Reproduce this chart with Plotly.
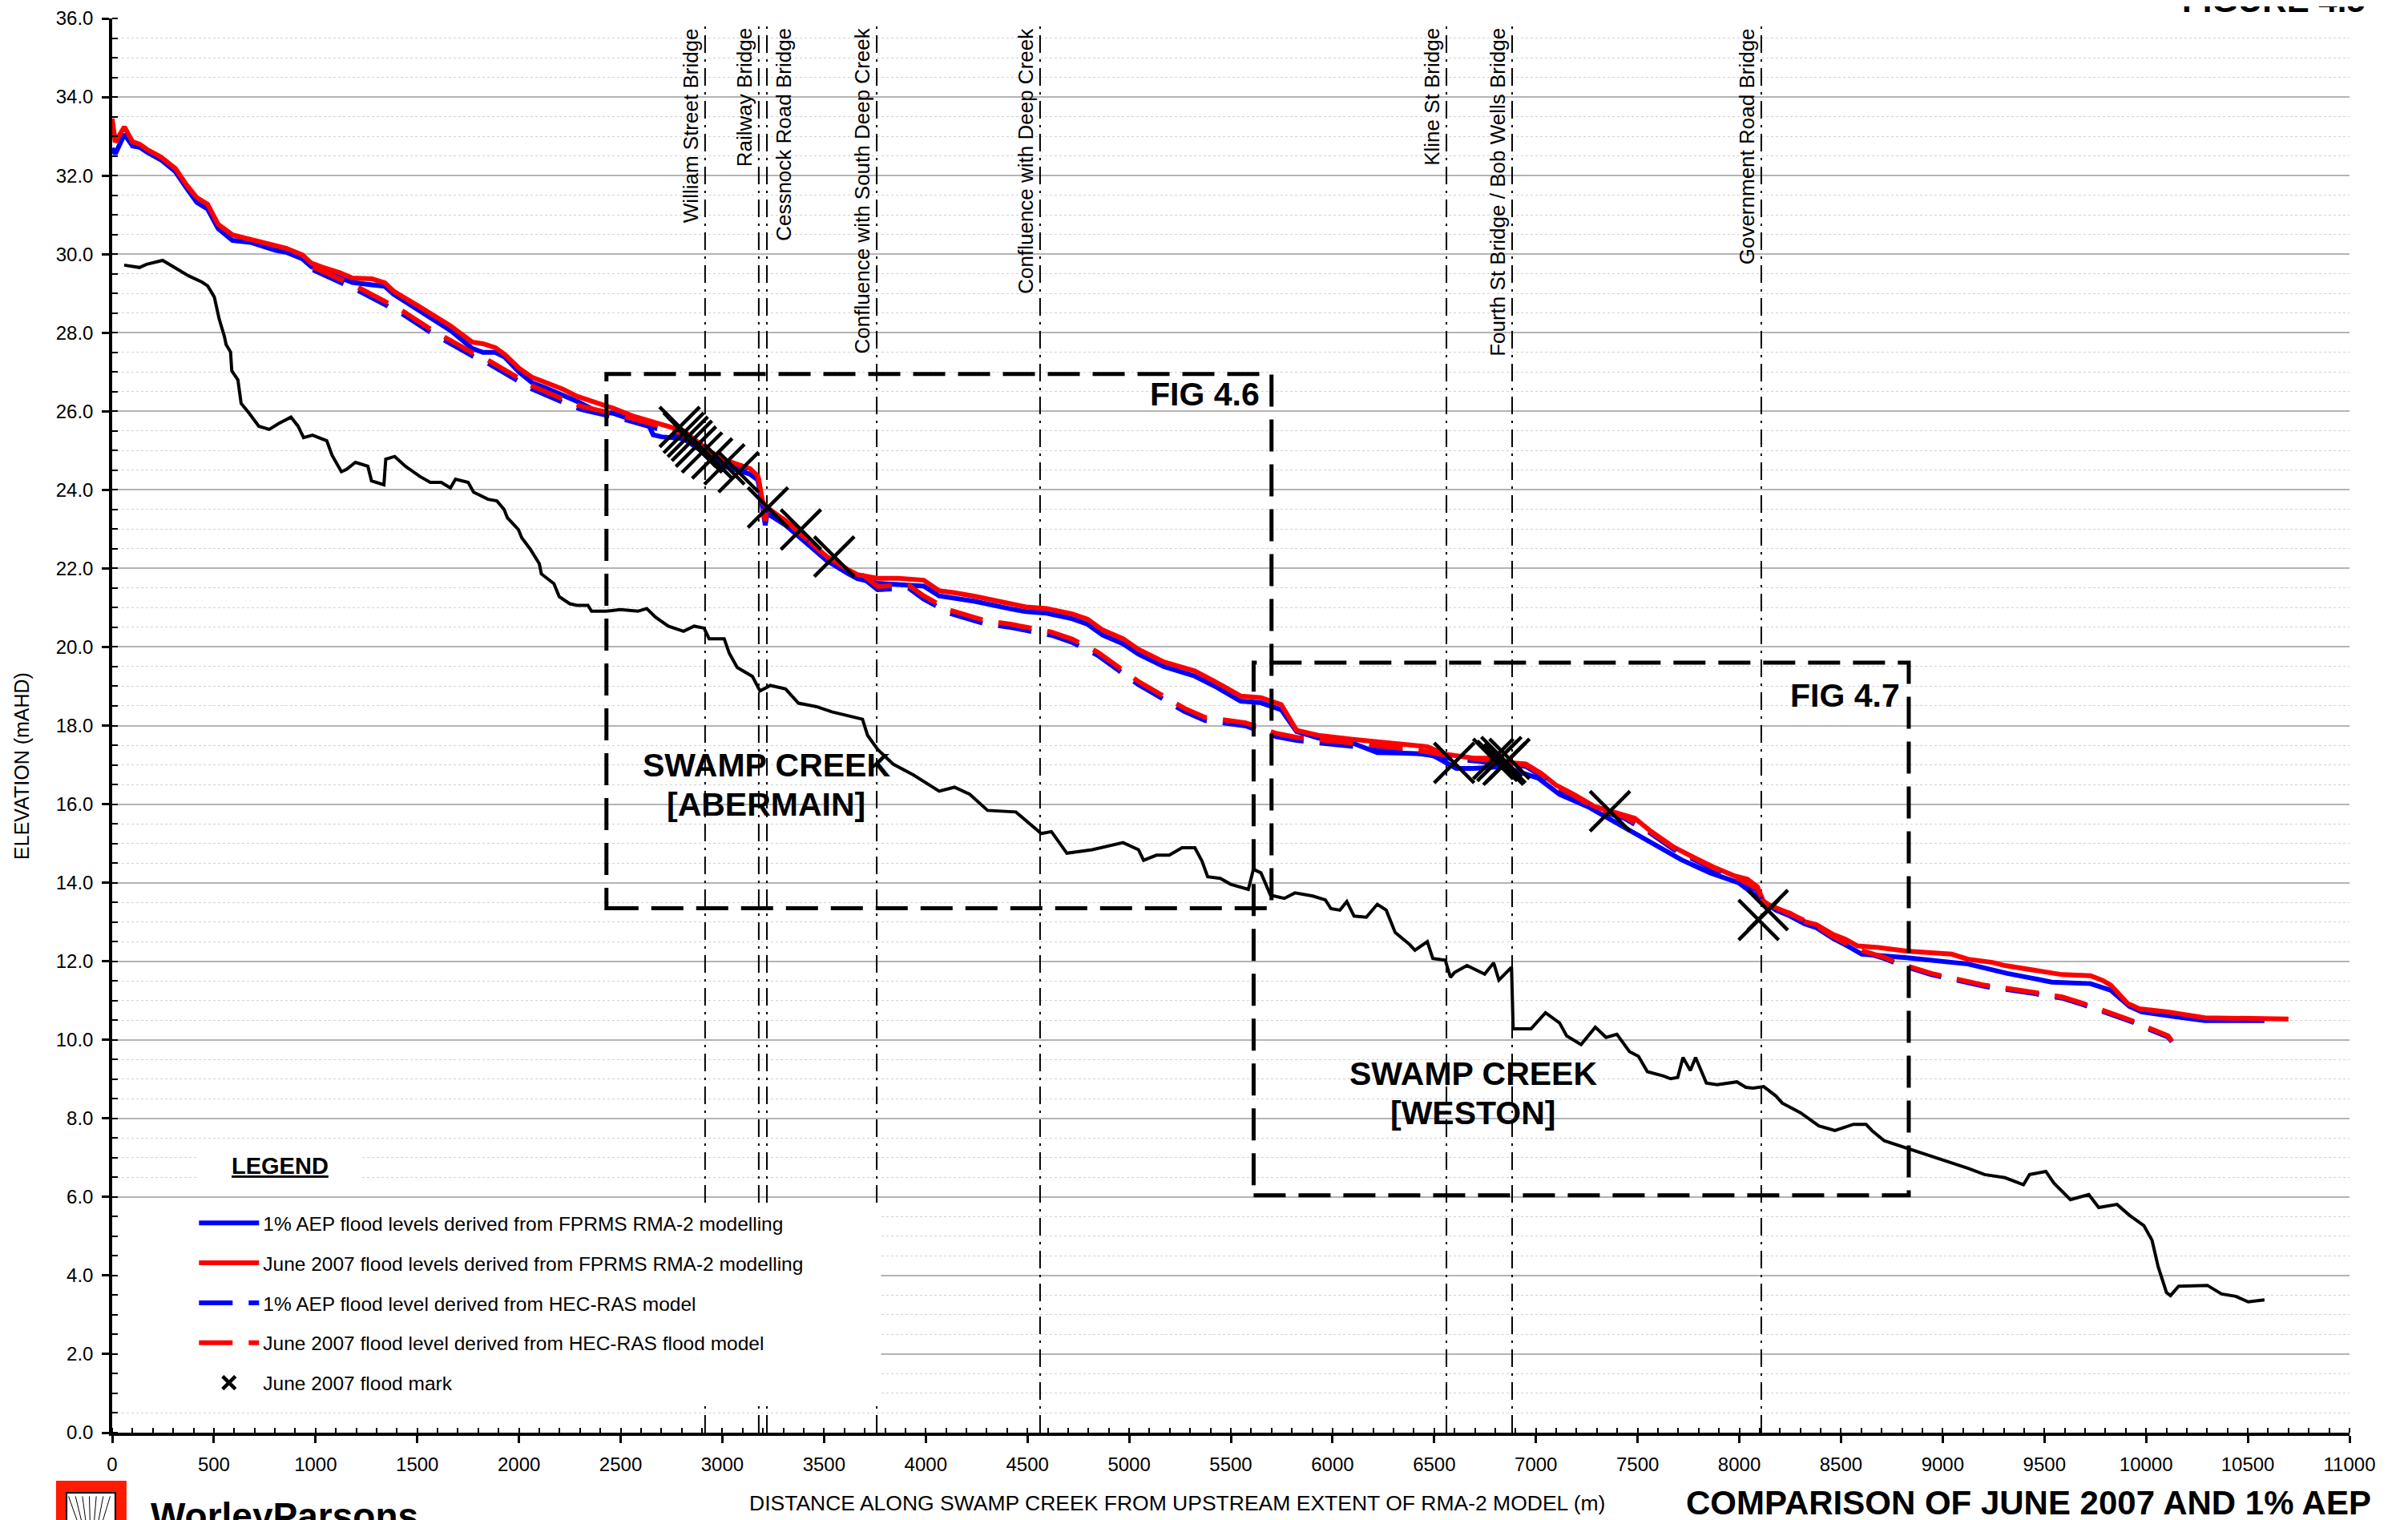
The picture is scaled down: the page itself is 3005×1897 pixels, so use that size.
import plotly.graph_objects as go

# ---------------- DATA ----------------
ground_x = [59, 134, 169, 248, 313, 375, 441, 470, 502, 526, 552, 560, 582, 588, 618, 634, 669, 721, 772, 819,
            879, 914, 941, 985, 1055, 1081, 1127, 1152, 1196, 1257, 1275, 1336, 1345, 1389, 1442, 1513, 1564, 1618,
            1663, 1688, 1750, 1777, 1848, 1891, 1927, 1943, 1997, 2014, 2057, 2100, 2110, 2172, 2198, 2250, 2285,
            2339, 2357, 2427, 2498, 2585, 2628, 2671, 2734, 2809, 2861, 2910, 2935, 3009, 3034, 3073, 3148, 3185,
            3236, 3311, 3374, 3463, 3538, 3576, 3689, 3714, 3764, 3839, 3940, 4066, 4141, 4216, 4304, 4443, 4568,
            4618, 4694, 4818, 4970, 5046, 5071, 5134, 5197, 5260, 5323, 5358, 5386, 5448, 5499, 5586, 5611, 5648,
            5695, 5763, 5815, 5903, 5965, 5992, 6036, 6070, 6106, 6166, 6220, 6264, 6308, 6378, 6405, 6466, 6493,
            6554, 6580, 6599, 6661, 6748, 6792, 6818, 6880, 6888, 6976, 7047, 7116, 7151, 7222, 7292, 7345, 7398,
            7460, 7504, 7548, 7627, 7662, 7697, 7723, 7759, 7785, 7838, 7891, 7988, 8032, 8068, 8120, 8180, 8211,
            8302, 8391, 8470, 8561, 8623, 8652, 8713, 8783, 8864, 9004, 9125, 9206, 9306, 9397, 9427, 9507, 9547,
            9628, 9718, 9767, 9857, 9919, 9989, 10029, 10059, 10100, 10120, 10160, 10301, 10371, 10441, 10502, 10582]
ground_y = [29.72, 29.66, 29.74, 29.84, 29.64, 29.45, 29.29, 29.19, 28.91, 28.35, 27.9, 27.7, 27.51, 27.03, 26.8,
            26.2, 25.98, 25.62, 25.54, 25.69, 25.85, 25.62, 25.33, 25.39, 25.25, 24.88, 24.46, 24.52, 24.7, 24.6,
            24.23, 24.13, 24.78, 24.85, 24.6, 24.34, 24.19, 24.19, 24.05, 24.27, 24.19, 23.94, 23.76, 23.72, 23.5,
            23.29, 22.99, 22.78, 22.48, 22.12, 21.86, 21.61, 21.28, 21.1, 21.06, 21.06, 20.91, 20.91, 20.95, 20.91,
            20.98, 20.76, 20.53, 20.4, 20.53, 20.48, 20.21, 20.21, 19.84, 19.48, 19.25, 18.88, 19.02, 18.93, 18.57,
            18.48, 18.35, 18.3, 18.16, 17.75, 17.39, 17.02, 16.74, 16.33, 16.43, 16.25, 15.84, 15.8, 15.25, 15.3,
            14.75, 14.84, 15.02, 14.84, 14.57, 14.7, 14.7, 14.89, 14.89, 14.55, 14.15, 14.11, 13.96, 13.83, 14.34,
            14.25, 13.68, 13.6, 13.74, 13.66, 13.56, 13.34, 13.3, 13.52, 13.15, 13.12, 13.45, 13.3, 12.73, 12.43,
            12.28, 12.5, 12.07, 12.03, 11.59, 11.71, 11.89, 11.67, 11.96, 11.52, 11.85, 10.28, 10.28, 10.69, 10.43,
            10.1, 9.88, 10.32, 10.06, 10.14, 9.7, 9.58, 9.19, 9.08, 9.01, 9.04, 9.55, 9.22, 9.55, 8.9, 8.86, 8.93,
            8.79, 8.77, 8.81, 8.57, 8.39, 8.14, 7.81, 7.69, 7.85, 7.85, 7.69, 7.43, 7.31, 7.19, 6.94, 6.73, 6.57,
            6.49, 6.31, 6.57, 6.65, 6.35, 5.93, 6.06, 5.73, 5.81, 5.53, 5.27, 4.9, 4.23, 3.57, 3.49, 3.73, 3.75,
            3.53, 3.47, 3.33, 3.38]

rma_jun_x = [0, 15, 60, 100, 135, 170, 240, 311, 363, 416, 469, 521, 592, 680, 802, 855, 935, 979, 1032, 1119,
             1181, 1277, 1340, 1383, 1505, 1665, 1770, 1823, 1884, 1930, 2000, 2066, 2128, 2216, 2286, 2374, 2462,
             2559, 2683, 2809, 2935, 3010, 3136, 3175, 3190, 3199, 3211, 3220, 3236, 3311, 3412, 3513, 3613, 3664,
             3763, 3865, 3990, 4066, 4141, 4242, 4417, 4492, 4594, 4719, 4795, 4870, 4970, 5046, 5171, 5322, 5422,
             5548, 5648, 5748, 5823, 5930, 6100, 6326, 6466, 6554, 6694, 6783, 6853, 6950, 7029, 7099, 7186, 7292,
             7434, 7486, 7557, 7679, 7785, 7872, 7978, 8040, 8089, 8120, 8180, 8250, 8321, 8380, 8462, 8522, 8582,
             8683, 8823, 8944, 9044, 9125, 9245, 9306, 9406, 9526, 9587, 9727, 9787, 9827, 9867, 9908, 9967, 10108,
             10289, 10700]
rma_jun_y = [33.45, 32.85, 33.24, 32.86, 32.8, 32.67, 32.47, 32.18, 31.78, 31.44, 31.27, 30.76, 30.49, 30.38, 30.21,
             30.15, 29.98, 29.77, 29.67, 29.53, 29.39, 29.37, 29.27, 29.06, 28.68, 28.17, 27.76, 27.72, 27.62, 27.45,
             27.1, 26.86, 26.74, 26.56, 26.38, 26.23, 26.08, 25.88, 25.68, 25.5, 24.99, 24.76, 24.54, 24.35, 23.9,
             23.67, 23.21, 23.55, 23.49, 23.21, 22.76, 22.3, 21.98, 21.84, 21.75, 21.75, 21.7, 21.43, 21.38, 21.29,
             21.1, 21.02, 20.98, 20.84, 20.71, 20.43, 20.21, 19.94, 19.62, 19.39, 19.12, 18.75, 18.71, 18.53, 17.88,
             17.75, 17.65, 17.53, 17.46, 17.27, 17.17, 17.17, 17.06, 17.02, 16.77, 16.48, 16.25, 15.93, 15.71, 15.64,
             15.34, 14.9, 14.62, 14.4, 14.17, 14.09, 13.89, 13.51, 13.34, 13.22, 13.01, 12.93, 12.68, 12.56, 12.39,
             12.35, 12.26, 12.22, 12.18, 12.05, 11.97, 11.89, 11.81, 11.73, 11.66, 11.63, 11.51, 11.39, 11.14, 10.93,
             10.79, 10.71, 10.56, 10.53]

rma_aep_x = [0, 15, 60, 100, 135, 170, 240, 311, 363, 416, 469, 521, 592, 680, 802, 855, 935, 979, 1032, 1119,
             1181, 1277, 1340, 1383, 1505, 1665, 1770, 1823, 1884, 1930, 2000, 2066, 2128, 2216, 2286, 2374, 2462,
             2559, 2640, 2660, 2700, 2809, 2935, 3010, 3136, 3175, 3190, 3199, 3211, 3220, 3236, 3311, 3412, 3513,
             3613, 3664, 3763, 3865, 3990, 4066, 4141, 4242, 4417, 4492, 4594, 4719, 4795, 4870, 4970, 5046, 5171,
             5322, 5422, 5548, 5648, 5748, 5823, 5930, 6100, 6220, 6326, 6484, 6608, 6694, 6818, 6888, 7011, 7116,
             7257, 7399, 7611, 7716, 7857, 7996, 8100, 8180, 8250, 8321, 8380, 8462, 8522, 8602, 8823, 9125, 9318,
             9536, 9727, 9827, 9918, 9978, 10127, 10289, 10582]
rma_aep_y = [32.7, 32.55, 33.05, 32.75, 32.72, 32.6, 32.4, 32.1, 31.7, 31.32, 31.15, 30.65, 30.35, 30.3, 30.1,
             30.05, 29.88, 29.68, 29.58, 29.42, 29.28, 29.22, 29.18, 28.98, 28.58, 28.05, 27.6, 27.5, 27.5, 27.38,
             27.0, 26.72, 26.6, 26.42, 26.25, 26.02, 25.95, 25.78, 25.62, 25.4, 25.35, 25.3, 24.85, 24.6, 24.4,
             24.25, 23.8, 23.55, 23.1, 23.4, 23.35, 23.1, 22.65, 22.2, 21.88, 21.74, 21.62, 21.6, 21.55, 21.3,
             21.25, 21.16, 20.97, 20.9, 20.86, 20.72, 20.58, 20.3, 20.08, 19.82, 19.5, 19.26, 19.0, 18.62, 18.58,
             18.4, 17.85, 17.68, 17.55, 17.31, 17.3, 17.27, 16.91, 16.91, 16.95, 16.87, 16.66, 16.25, 15.93, 15.52,
             14.9, 14.58, 14.25, 14.0, 13.6, 13.3, 13.15, 12.95, 12.85, 12.58, 12.42, 12.18, 12.09, 11.93, 11.69,
             11.47, 11.43, 11.26, 10.85, 10.71, 10.6, 10.49, 10.49]

hec_jun_x = [987, 1126, 1207, 1350, 1420, 1562, 1632, 1774, 1848, 1985, 2067, 2216, 2304, 2427, 2498, 2691, 2790,
             2935, 3010, 3136, 3175, 3199, 3236, 3311, 3412, 3513, 3613, 3700, 3763, 3915, 3990, 4116, 4292, 4417,
             4618, 4719, 4845, 5046, 5271, 5372, 5573, 5723, 5823, 5992, 6097, 6237, 6414, 6550, 6694, 6853, 6950,
             7029, 7099, 7186, 7292, 7434, 7557, 7679, 7785, 7872, 7978, 8089, 8120, 8250, 8380, 8462, 8582, 8713,
             8794, 8944, 9206, 9447, 9587, 9688, 9767, 9930, 10009, 10108, 10127]
hec_jun_y = [29.67, 29.35, 29.16, 28.77, 28.58, 28.1, 27.89, 27.48, 27.3, 26.88, 26.64, 26.31, 26.13, 25.98, 25.9,
             25.62, 25.45, 24.99, 24.76, 24.54, 24.35, 23.67, 23.49, 23.21, 22.76, 22.3, 21.98, 21.8, 21.54, 21.58,
             21.3, 20.94, 20.67, 20.58, 20.38, 20.2, 19.87, 19.12, 18.44, 18.21, 18.07, 17.8, 17.7, 17.6, 17.56,
             17.46, 17.38, 17.25, 17.15, 17.05, 17.0, 16.75, 16.46, 16.22, 15.9, 15.68, 15.32, 14.88, 14.6, 14.38,
             14.15, 13.85, 13.5, 13.2, 12.9, 12.62, 12.3, 12.1, 11.93, 11.69, 11.39, 11.21, 11.09, 10.93, 10.79,
             10.49, 10.31, 10.1, 9.97]

hec_aep_x = [987, 1126, 1207, 1350, 1420, 1562, 1632, 1774, 1848, 1985, 2067, 2216, 2304, 2427, 2498, 2691, 2790,
             2935, 3010, 3136, 3175, 3199, 3236, 3311, 3412, 3513, 3613, 3700, 3763, 3915, 3990, 4116, 4292, 4417,
             4618, 4719, 4845, 5046, 5271, 5372, 5573, 5723, 5823, 5992, 6097, 6237, 6414, 6550, 6694, 6853, 6950,
             7029, 7099, 7186, 7292, 7434, 7557, 7679, 7785, 7872, 7978, 8089, 8120, 8250, 8380, 8462, 8582, 8713,
             8794, 8944, 9206, 9447, 9587, 9688, 9767, 9930, 10009, 10108, 10127]
hec_aep_y = [29.6, 29.27, 29.08, 28.69, 28.5, 28.02, 27.81, 27.4, 27.22, 26.8, 26.56, 26.23, 26.05, 25.9, 25.82,
             25.54, 25.37, 24.9, 24.67, 24.45, 24.27, 23.59, 23.41, 23.13, 22.68, 22.22, 21.9, 21.72, 21.46, 21.5,
             21.22, 20.86, 20.59, 20.5, 20.3, 20.12, 19.79, 19.04, 18.36, 18.13, 17.99, 17.72, 17.62, 17.52, 17.48,
             17.38, 17.3, 17.18, 17.1, 17.0, 16.96, 16.71, 16.42, 16.18, 15.86, 15.64, 15.28, 14.84, 14.56, 14.34,
             14.11, 13.81, 13.46, 13.16, 12.86, 12.58, 12.27, 12.07, 11.9, 11.66, 11.36, 11.18, 11.06, 10.9, 10.76,
             10.46, 10.28, 10.07, 9.95]

mark_x = [2790, 2810, 2830, 2850, 2870, 2900, 2950, 3010, 3080, 3224, 3386, 3550,
          6598, 6790, 6810, 6830, 6850, 6870, 6840, 7364, 8095, 8140]
mark_y = [25.6, 25.45, 25.35, 25.25, 25.1, 24.95, 24.8, 24.65, 24.45, 23.55, 22.99, 22.3,
          17.05, 17.15, 17.1, 17.2, 17.05, 17.15, 17.0, 15.82, 13.05, 13.3]

feature_names = ["William Street Bridge", "Railway Bridge", "Cessnock Road Bridge",
                 "Confluence with South Deep Creek", "Confluence with Deep Creek", "Kline St Bridge",
                 "Fourth St Bridge / Bob Wells Bridge", "Government Road Bridge"]
feature_x = [2915, 3179, 3219, 3759, 4562, 6560, 6883, 8108]
feature_side = ["right", "right", "left", "right", "right", "right", "right", "right"]

x_ticks = list(range(0, 11001, 500))
y_ticks = [i * 2.0 for i in range(19)]

FONT = "Liberation Sans, Arial, sans-serif"
BLUE = "#0000ff"
RED = "#ff0000"

fig = go.Figure()

fig.add_trace(go.Scatter(x=ground_x, y=ground_y, mode="lines", line=dict(color="black", width=4),
                         showlegend=False, hoverinfo="skip"))
fig.add_trace(go.Scatter(x=rma_aep_x, y=rma_aep_y, mode="lines", line=dict(color=BLUE, width=6),
                         name="1% AEP flood levels derived from FPRMS RMA-2 modelling", legendgroup="a"))
fig.add_trace(go.Scatter(x=rma_jun_x, y=rma_jun_y, mode="lines", line=dict(color=RED, width=6),
                         name="June 2007 flood levels derived from FPRMS RMA-2 modelling", legendgroup="b"))
fig.add_trace(go.Scatter(x=hec_aep_x, y=hec_aep_y, mode="lines",
                         line=dict(color=BLUE, width=6, dash="42px,20px"),
                         name="1% AEP flood level derived from HEC-RAS model", legendgroup="c"))
fig.add_trace(go.Scatter(x=hec_jun_x, y=hec_jun_y, mode="lines",
                         line=dict(color=RED, width=6, dash="42px,20px"),
                         name="June 2007 flood level derived from HEC-RAS flood model", legendgroup="d"))
fig.add_trace(go.Scatter(x=mark_x, y=mark_y, mode="markers",
                         marker=dict(symbol="x-thin", size=50, color="black",
                                     line=dict(color="black", width=4.5)),
                         name="June 2007 flood mark", legendgroup="e"))

shapes = []
# vertical dash-dot feature lines
for fx in feature_x:
    shapes.append(dict(type="line", xref="x", yref="y", x0=fx, x1=fx, y0=0, y1=35.8, layer="between",
                       line=dict(color="black", width=2, dash="22px,8px,3px,8px")))
# white boxes behind the legend
shapes.append(dict(type="rect", xref="x", yref="y", x0=424, x1=1216, y0=6.25, y1=7.25, layer="between",
                   fillcolor="white", line=dict(width=0)))
shapes.append(dict(type="rect", xref="x", yref="y", x0=5, x1=3780, y0=0.7, y1=5.8, layer="between",
                   fillcolor="white", line=dict(width=0)))
# dashed figure extent boxes
shapes.append(dict(type="rect", xref="x", yref="y", x0=2430, x1=5700, y0=13.35, y1=26.95, layer="above",
                   line=dict(color="black", width=5, dash="40px,16px")))
shapes.append(dict(type="rect", xref="x", yref="y", x0=5612, x1=8833, y0=6.04, y1=19.6, layer="above",
                   line=dict(color="black", width=5, dash="40px,16px")))
# logo
shapes.append(dict(type="rect", xref="paper", yref="paper", x0=-0.0251, x1=0.0064, y0=-0.09, y1=-0.034,
                   fillcolor="#ff1a00", line=dict(width=0)))
shapes.append(dict(type="rect", xref="paper", yref="paper", x0=-0.0204, x1=0.0014, y0=-0.09, y1=-0.0425,
                   fillcolor="white", line=dict(color="black", width=2)))
for k in range(7):
    xa = -0.0195 + k * 0.0031
    shapes.append(dict(type="line", xref="paper", yref="paper", x0=xa, x1=-0.0095, y0=-0.045, y1=-0.09,
                       line=dict(color="black", width=1)))

annotations = []
for name, fx, side in zip(feature_names, feature_x, feature_side):
    annotations.append(dict(x=fx, y=35.8, xref="x", yref="y", text=name, textangle=-90, showarrow=False,
                            xanchor=side, yanchor="top", xshift=-1 if side == "right" else 4,
                            font=dict(family=FONT, size=26, color="black")))

big = dict(family=FONT, size=41, color="black", weight="bold")
annotations += [
    dict(x=5370, y=26.43, xref="x", yref="y", text="FIG 4.6", showarrow=False, font=big),
    dict(x=8518, y=18.76, xref="x", yref="y", text="FIG 4.7", showarrow=False, font=big),
    dict(x=3215, y=17.0, xref="x", yref="y", text="SWAMP CREEK", showarrow=False, font=big),
    dict(x=3215, y=16.0, xref="x", yref="y", text="[ABERMAIN]", showarrow=False, font=big),
    dict(x=6690, y=9.14, xref="x", yref="y", text="SWAMP CREEK", showarrow=False, font=big),
    dict(x=6690, y=8.13, xref="x", yref="y", text="[WESTON]", showarrow=False, font=big),
    dict(x=827, y=6.79, xref="x", yref="y", text="<b><u>LEGEND</u></b>", showarrow=False,
         font=dict(family=FONT, size=29, color="black")),
    dict(x=-0.0405, y=0.4714, xref="paper", yref="paper", xanchor="center", yanchor="middle",
         text="ELEVATION (mAHD)", textangle=-90,
         showarrow=False, font=dict(family=FONT, size=25, color="black")),
    dict(x=0.476, y=-0.0499, xref="paper", yref="paper", xanchor="center", yanchor="middle",
         text="DISTANCE ALONG SWAMP CREEK FROM UPSTREAM EXTENT OF RMA-2 MODEL (m)", showarrow=False,
         font=dict(family=FONT, size=26.5, color="black")),
    dict(x=0.7027, y=-0.0351, xref="paper", yref="paper", xanchor="left", yanchor="top",
         text="COMPARISON OF JUNE 2007 AND 1% AEP", showarrow=False, font=dict(family=FONT, size=42,
                                                                             color="black", weight="bold")),
    dict(x=1.0079, y=0.9983, xref="paper", yref="paper", xanchor="right", yanchor="bottom",
         text="FIGURE 4.5", showarrow=False, font=dict(family=FONT, size=42, color="black", weight="bold")),
    dict(x=0.0165, y=-0.0431, xref="paper", yref="paper", xanchor="left", yanchor="top",
         text="WorleyParsons", showarrow=False, font=dict(family=FONT, size=46, color="black",
                                                           weight="bold")),
]

# the page adds an 8px body margin, so the figure is 8px smaller than the window
fig.update_layout(
    width=2997, height=1889,
    margin=dict(l=132, r=73, t=15, b=109, autoexpand=False),
    paper_bgcolor="white", plot_bgcolor="white",
    font=dict(family=FONT, size=24, color="black"),
    shapes=shapes, annotations=annotations,
    showlegend=True,
    legend=dict(x=0.037, y=0.161, xanchor="left", yanchor="top", bgcolor="rgba(255,255,255,0)",
                borderwidth=0, traceorder="grouped", tracegroupgap=15, itemwidth=75,
                font=dict(family=FONT, size=24.5, color="black")),
    xaxis=dict(range=[0, 11000], tickvals=x_ticks, ticktext=[str(v) for v in x_ticks], automargin=False,
               showgrid=False, zeroline=False, showline=True, linecolor="black", linewidth=4,
               ticks="outside", ticklen=9, tickwidth=2.5, tickcolor="black",
               tickfont=dict(family=FONT, size=24), ticklabelstandoff=6,
               minor=dict(dtick=100, ticks="inside", ticklen=6, tickwidth=2, tickcolor="black",
                          showgrid=False)),
    yaxis=dict(range=[0, 36], tickvals=y_ticks, ticktext=["%.1f" % v for v in y_ticks], automargin=False,
               showgrid=True, gridcolor="#b4b4b4", gridwidth=1.5, zeroline=False,
               showline=True, linecolor="black", linewidth=3.5,
               ticks="outside", ticklen=9, tickwidth=2.5, tickcolor="black",
               tickfont=dict(family=FONT, size=24), ticklabelstandoff=6,
               minor=dict(dtick=0.5, ticks="inside", ticklen=7, tickwidth=2, tickcolor="black",
                          showgrid=True, gridcolor="#d2d2d2", griddash="dot", gridwidth=1)),
)

fig.write_html("out.html")
